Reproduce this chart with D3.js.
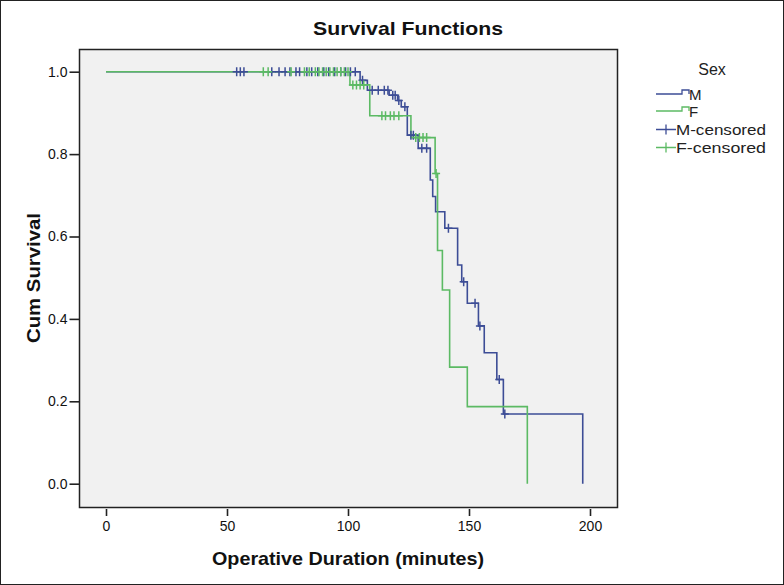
<!DOCTYPE html>
<html>
<head>
<meta charset="utf-8">
<script src="https://cdn.jsdelivr.net/npm/d3@7"></script>
<style>
  html, body { margin: 0; padding: 0; background: #fff; }
  svg { display: block; font-family: "Liberation Sans", Arial, sans-serif; }
</style>
</head>
<body>
<svg id="chart" width="784" height="585"></svg>
<script>
// ---- Data ----
const mTimes = [0, 105, 108, 117, 120.5, 122, 124.5, 129, 134, 135, 136.2, 140, 145.3, 147, 149.3, 153.9, 156.3, 161.5, 164.2, 197];
const mSurv  = [1.0, 0.979, 0.955, 0.943, 0.93, 0.915, 0.846, 0.814, 0.737, 0.697, 0.66, 0.62, 0.531, 0.49, 0.438, 0.383, 0.318, 0.253, 0.169, 0.0];

const fTimes = [0, 100.8, 109, 126, 136, 137, 139, 142, 149.3, 174.1];
const fSurv  = [1.0, 0.968, 0.893, 0.84, 0.753, 0.566, 0.47, 0.283, 0.187, 0.0];

const mCensTimes = [54, 55.5, 57, 68.5, 71.5, 74, 76, 78.5, 80, 83, 85, 87.5, 90, 92, 94.5, 97, 99, 101, 103,
                    106, 110, 112.5, 115, 116.5, 118.5, 119.5, 121, 123.5, 126, 127, 130.5, 132.5,
                    141.5, 147.8, 152.5, 154.5, 162.5, 164.8];
const mCensSurv  = [1, 1, 1, 1, 1, 1, 1, 1, 1, 1, 1, 1, 1, 1, 1, 1, 1, 1, 1,
                    0.979, 0.955, 0.955, 0.955, 0.955, 0.943, 0.943, 0.93, 0.915, 0.846, 0.846, 0.814, 0.814,
                    0.62, 0.49, 0.438, 0.383, 0.253, 0.169];

const fCensTimes = [65, 67, 76.5, 82, 84, 86.5, 88, 89.5, 91, 92.5, 94, 95.5, 97, 98.5, 100,
                    102, 103.5, 105, 106.5, 114, 115.5, 117.5, 119, 121, 128, 129.5, 131, 132.5, 136.4];
const fCensSurv  = [1, 1, 1, 1, 1, 1, 1, 1, 1, 1, 1, 1, 1, 1, 1,
                    0.968, 0.968, 0.968, 0.968, 0.893, 0.893, 0.893, 0.893, 0.893, 0.84, 0.84, 0.84, 0.84, 0.753];

const xTickValues = [0, 50, 100, 150, 200];
const yTickValues = [0.0, 0.2, 0.4, 0.6, 0.8, 1.0];
const legendTitle = "Sex";
const legendLabels = ["M", "F", "M-censored", "F-censored"];
const titleText = "Survival Functions";
const xTitle = "Operative Duration (minutes)";
const yTitle = "Cum Survival";

// ---- Drawing ----
const colM = "#3d4d96";
const colF = "#5cba64";
const svg = d3.select("#chart");

// outer frame
svg.append("rect").attr("x", 0.5).attr("y", 0.5).attr("width", 783).attr("height", 584)
  .attr("fill", "#fff").attr("stroke", "#222").attr("stroke-width", 1);

const plot = { left: 79.5, right: 617.5, top: 49.5, bottom: 507.5 };
const x = d3.scaleLinear().domain([0, 200]).range([106, 590]);
const y = d3.scaleLinear().domain([0, 1]).range([483.7, 71.7]);

svg.append("rect").attr("x", plot.left).attr("y", plot.top)
  .attr("width", plot.right - plot.left).attr("height", plot.bottom - plot.top)
  .attr("fill", "#f1f1f1").attr("stroke", "#222").attr("stroke-width", 1.5);

// axes
const xAxis = d3.axisBottom(x).tickValues(xTickValues).tickFormat(d3.format("d"))
  .tickSizeInner(7).tickSizeOuter(0).tickPadding(5);
const gx = svg.append("g").attr("transform", `translate(0,${plot.bottom + 1.5})`).call(xAxis);
gx.select(".domain").remove();
gx.selectAll("line").attr("stroke", "#222").attr("stroke-width", 1.6);
gx.selectAll("text").attr("font-size", 14).attr("fill", "#111").attr("font-family", "Liberation Sans, Arial, sans-serif");

const yAxis = d3.axisLeft(y).tickValues(yTickValues).tickFormat(d3.format(".1f"))
  .tickSizeInner(10).tickSizeOuter(0).tickPadding(2);
const gy = svg.append("g").attr("transform", `translate(${plot.left},0)`).call(yAxis);
gy.select(".domain").remove();
gy.selectAll("line").attr("stroke", "#222").attr("stroke-width", 1.6);
gy.selectAll("text").attr("font-size", 14).attr("fill", "#111").attr("font-family", "Liberation Sans, Arial, sans-serif");

// titles
svg.append("text").attr("x", 408).attr("y", 35).attr("text-anchor", "middle")
  .attr("font-size", 19).attr("font-weight", "bold").attr("fill", "#111")
  .attr("textLength", 190).attr("lengthAdjust", "spacingAndGlyphs").text(titleText);
svg.append("text").attr("x", 348).attr("y", 565).attr("text-anchor", "middle")
  .attr("font-size", 19).attr("font-weight", "bold").attr("fill", "#111")
  .attr("textLength", 272).attr("lengthAdjust", "spacingAndGlyphs").text(xTitle);
svg.append("text").attr("transform", "translate(40,278) rotate(-90)").attr("text-anchor", "middle")
  .attr("font-size", 19).attr("font-weight", "bold").attr("fill", "#111")
  .attr("textLength", 130).attr("lengthAdjust", "spacingAndGlyphs").text(yTitle);

// curves
const line = d3.line().x(d => x(d[0])).y(d => y(d[1])).curve(d3.curveStepAfter);
const mData = mTimes.map((t, i) => [t, mSurv[i]]);
const fData = fTimes.map((t, i) => [t, fSurv[i]]);

svg.append("path").datum(mData).attr("d", line).attr("fill", "none")
  .attr("stroke", colM).attr("stroke-width", 1.6);
svg.append("path").datum(fData).attr("d", line).attr("fill", "none")
  .attr("stroke", colF).attr("stroke-width", 1.6);

function drawCensors(times, surv, color) {
  const pts = times.map((t, i) => [t, surv[i]]);
  const g = svg.append("g").attr("stroke", color).attr("stroke-width", 1.5);
  g.selectAll("path").data(pts).join("path")
    .attr("d", d => {
      const cx = x(d[0]), cy = y(d[1]);
      return `M${cx - 4},${cy}H${cx + 4}M${cx},${cy - 4.5}V${cy + 4.5}`;
    });
}
drawCensors(mCensTimes, mCensSurv, colM);
drawCensors(fCensTimes, fCensSurv, colF);

// legend
svg.append("text").attr("x", 712).attr("y", 75).attr("text-anchor", "middle")
  .attr("font-size", 16).attr("fill", "#222").text(legendTitle);
const rowsY = [95, 112, 129.5, 147.5];
const cols = [colM, colF, colM, colF];
legendLabels.forEach((lab, i) => {
  const cy = rowsY[i];
  if (i < 2) {
    svg.append("path").attr("d", `M656,${cy - 1}H682V${cy - 5}H689V${cy - 1}`)
      .attr("fill", "none").attr("stroke", cols[i]).attr("stroke-width", 1.3);
    svg.append("text").attr("x", 689).attr("y", cy + 5).attr("font-size", 15).attr("fill", "#222").text(lab);
  } else {
    svg.append("path").attr("d", `M656,${cy}H676M666,${cy - 5}V${cy + 5}`)
      .attr("fill", "none").attr("stroke", cols[i]).attr("stroke-width", 1.3);
    svg.append("text").attr("x", 676).attr("y", cy + 5).attr("font-size", 15).attr("fill", "#222")
      .attr("textLength", 90).attr("lengthAdjust", "spacingAndGlyphs").text(lab);
  }
});
</script>
</body>
</html>
